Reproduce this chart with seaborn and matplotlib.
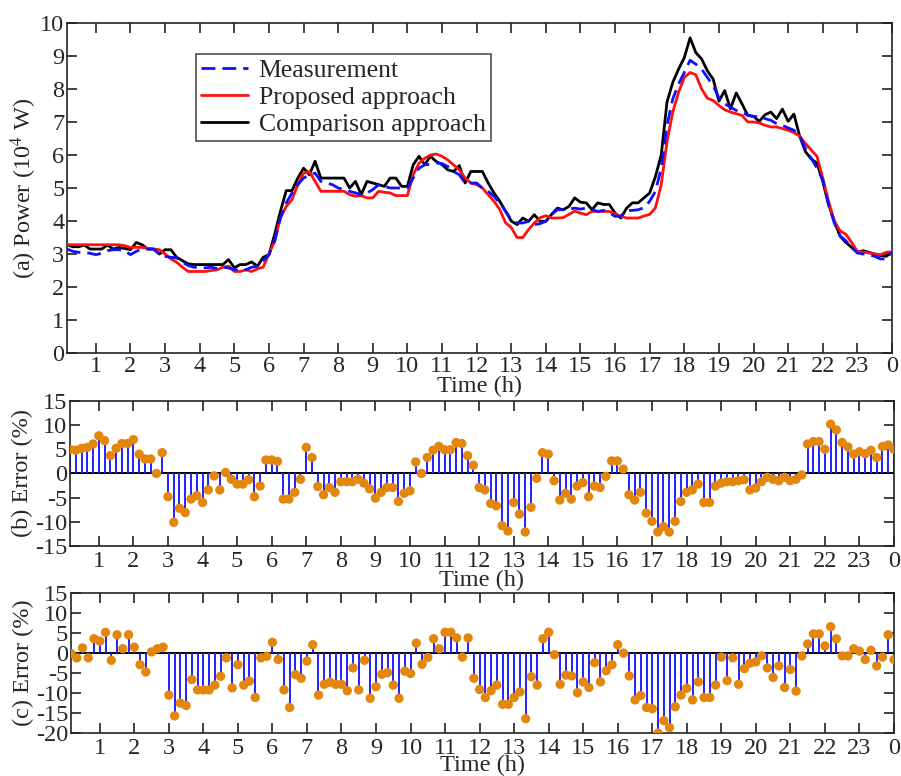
import numpy as np
import pandas as pd
import matplotlib
matplotlib.use("Agg")
import matplotlib.pyplot as plt
import seaborn as sns

# ---------------- data ----------------
time_h = np.arange(1, 145) / 6.0  # 10-minute steps, 0:10 ... 24:00

measurement = [
    3.15, 3.08, 3.05, 3.05, 3.02, 2.98, 3.02, 3.10, 3.13, 3.13, 3.10, 2.98,
    3.08, 3.15, 3.15, 3.15, 3.00, 2.93, 2.90, 2.88, 2.75, 2.65, 2.60, 2.58,
    2.58, 2.60, 2.56, 2.60, 2.58, 2.52, 2.52, 2.52, 2.60, 2.63, 2.80, 2.98,
    3.40, 4.10, 4.55, 4.85, 5.10, 5.30, 5.40, 5.45, 5.20, 5.15, 5.10, 5.00,
    4.95, 4.90, 4.85, 4.80, 4.85, 4.95, 5.10, 5.05, 5.00, 5.00, 5.00, 5.00,
    5.30, 5.60, 5.70, 5.72, 5.76, 5.74, 5.65, 5.50, 5.40, 5.15, 5.15, 5.15,
    5.00, 4.90, 4.75, 4.55, 4.30, 4.04, 3.94, 3.94, 3.99, 3.89, 3.92, 3.99,
    4.20, 4.34, 4.34, 4.36, 4.39, 4.36, 4.39, 4.34, 4.29, 4.32, 4.25, 4.14,
    4.15, 4.32, 4.32, 4.34, 4.40, 4.60, 4.90, 5.60, 6.90, 7.70, 8.15, 8.50,
    8.87, 8.75, 8.60, 8.35, 8.10, 7.73, 7.55, 7.45, 7.35, 7.30, 7.20, 7.17,
    7.15, 7.10, 7.05, 6.95, 6.90, 6.82, 6.75, 6.57, 6.20, 5.90, 5.60, 5.25,
    4.50, 3.94, 3.55, 3.40, 3.20, 3.03, 3.00, 2.98, 2.93, 2.85, 2.85, 3.05,
]

proposed = [
    3.28, 3.28, 3.28, 3.28, 3.28, 3.28, 3.28, 3.28, 3.28, 3.28, 3.25, 3.20,
    3.20, 3.20, 3.17, 3.15, 3.13, 3.00, 2.85, 2.75, 2.60, 2.47, 2.47, 2.47,
    2.47, 2.50, 2.52, 2.60, 2.63, 2.47, 2.47, 2.52, 2.47, 2.55, 2.60, 3.00,
    3.40, 4.10, 4.44, 4.65, 5.10, 5.45, 5.50, 5.20, 4.90, 4.90, 4.90, 4.90,
    4.90, 4.80, 4.75, 4.77, 4.70, 4.70, 4.90, 4.87, 4.85, 4.77, 4.77, 4.77,
    5.40, 5.75, 5.90, 6.00, 6.03, 5.96, 5.85, 5.70, 5.55, 5.30, 5.15, 5.10,
    5.00, 4.80, 4.60, 4.35, 3.95, 3.80, 3.50, 3.50, 3.74, 3.94, 4.10, 4.16,
    4.09, 4.09, 4.10, 4.20, 4.30, 4.24, 4.19, 4.29, 4.29, 4.29, 4.29, 4.22,
    4.14, 4.09, 4.09, 4.09, 4.15, 4.20, 4.40, 5.10, 6.40, 7.30, 7.90, 8.35,
    8.50, 8.43, 8.00, 7.72, 7.65, 7.50, 7.37, 7.30, 7.25, 7.20, 7.00, 7.00,
    6.97, 6.90, 6.85, 6.85, 6.80, 6.75, 6.68, 6.57, 6.35, 6.15, 5.96, 5.30,
    4.60, 4.00, 3.70, 3.60, 3.35, 3.08, 3.06, 3.03, 3.00, 2.98, 3.05, 3.07,
]

comparison = [
    3.28, 3.22, 3.22, 3.27, 3.15, 3.15, 3.15, 3.27, 3.15, 3.20, 3.17, 3.13,
    3.35, 3.28, 3.15, 3.15, 3.00, 3.13, 3.13, 2.90, 2.80, 2.70, 2.68, 2.68,
    2.68, 2.68, 2.68, 2.68, 2.83, 2.58, 2.68, 2.68, 2.76, 2.63, 2.90, 2.98,
    3.60, 4.30, 4.92, 4.92, 5.30, 5.60, 5.40, 5.81, 5.30, 5.30, 5.30, 5.30,
    5.30, 5.00, 5.20, 4.80, 5.20, 5.15, 5.10, 5.05, 5.30, 5.30, 5.05, 5.05,
    5.70, 5.96, 5.71, 5.96, 5.80, 5.71, 5.55, 5.50, 5.68, 5.15, 5.50, 5.50,
    5.50, 5.15, 4.85, 4.60, 4.30, 4.00, 3.89, 4.09, 3.99, 4.19, 3.99, 3.99,
    4.20, 4.39, 4.34, 4.44, 4.70, 4.57, 4.55, 4.34, 4.55, 4.50, 4.50, 4.24,
    4.09, 4.39, 4.55, 4.55, 4.70, 4.85, 5.35, 6.00, 7.60, 8.20, 8.60, 8.95,
    9.55, 9.10, 8.91, 8.55, 8.30, 7.63, 7.95, 7.40, 7.88, 7.55, 7.20, 7.17,
    7.02, 7.22, 7.30, 7.10, 7.39, 7.02, 7.24, 6.57, 6.10, 5.88, 5.75, 5.20,
    4.50, 4.00, 3.54, 3.35, 3.20, 3.05, 3.10, 3.05, 3.00, 2.95, 2.93, 3.05,
]

error_b = [
    5.0, 4.8, 5.2, 5.4, 6.1, 7.8, 6.8, 3.7, 5.2, 6.2, 6.2, 7.0,
    4.0, 3.0, 3.0, 0.0, 4.3, -4.8, -10.1, -7.2, -8.1, -5.3, -4.6, -6.0,
    -3.4, -0.5, -3.4, 0.2, -1.2, -2.2, -2.2, -1.3, -4.8, -2.6, 2.8, 2.8,
    2.5, -5.3, -5.3, -3.9, -1.2, 5.4, 3.3, -2.7, -4.4, -2.9, -3.9, -1.7,
    -1.7, -1.7, -1.2, -2.0, -3.2, -5.1, -3.9, -2.9, -2.9, -5.8, -4.1, -3.6,
    2.4, 0.0, 3.3, 4.8, 5.6, 4.9, 4.9, 6.4, 6.2, 3.7, 1.7, -2.9,
    -3.4, -6.2, -6.7, -10.8, -11.9, -6.0, -8.4, -12.1, -7.0, -1.0, 4.3, 4.0,
    -1.5, -5.5, -4.1, -5.3, -2.6, -1.9, -4.8, -2.6, -2.9, -0.6, 2.6, 2.6,
    0.9, -4.4, -5.5, -3.9, -8.2, -9.9, -12.1, -11.0, -12.1, -9.9, -5.8, -3.9,
    -3.4, -2.2, -6.0, -6.0, -2.6, -2.0, -1.7, -1.7, -1.5, -1.3, -3.4, -3.0,
    -1.7, -0.8, -1.2, -1.5, -0.8, -1.5, -1.2, -0.3, 6.1, 6.6, 6.6, 5.0,
    10.2, 9.0, 6.4, 5.5, 4.0, 4.5, 4.1, 4.8, 3.3, 5.6, 5.9, 5.0,
]

error_c = [
    -0.2, -1.3, 1.2, -1.3, 3.5, 2.9, 5.1, -1.9, 4.5, 1.0, 4.5, 1.4,
    -3.0, -4.8, 0.2, 1.0, 1.4, -10.6, -15.8, -12.6, -13.2, -6.7, -9.3, -9.3,
    -9.3, -8.1, -5.9, -1.3, -8.8, -3.0, -8.1, -7.1, -11.2, -1.3, -0.9, 2.6,
    -1.7, -9.3, -13.7, -5.5, -6.4, -2.1, 2.0, -10.6, -7.9, -7.4, -7.9, -7.9,
    -9.5, -3.8, -9.3, -1.9, -11.4, -8.5, -5.4, -5.0, -8.1, -11.4, -4.6, -5.2,
    2.4, -2.9, -1.2, 3.5, 1.0, 5.1, 5.1, 3.7, -1.1, 3.7, -6.4, -9.2,
    -11.2, -9.5, -8.1, -12.9, -12.9, -11.2, -9.8, -16.5, -6.0, -8.1, 3.5, 5.1,
    -0.5, -7.9, -5.6, -5.8, -10.0, -7.3, -8.7, -2.5, -7.3, -4.5, -3.0, 2.0,
    -0.1, -5.8, -11.8, -10.7, -13.7, -14.0, -20.1, -17.0, -18.7, -13.5, -10.6, -8.9,
    -11.8, -7.3, -11.2, -11.2, -8.1, -1.1, -7.0, -1.3, -7.9, -4.0, -2.6, -2.3,
    -0.8, -3.8, -6.2, -3.3, -8.7, -4.2, -9.6, -0.8, 2.2, 4.7, 4.7, 1.7,
    6.5, 3.5, -0.8, -0.8, 1.0, 0.4, -1.7, 0.6, -3.3, -1.1, 4.5, -1.7,
]

hour_ticks = list(range(1, 25))
hour_labels = [str(h % 24) for h in hour_ticks]
power_ticks = list(range(0, 11))
err_b_ticks = [-15, -10, -5, 0, 5, 10, 15]
err_c_ticks = [-20, -15, -10, -5, 0, 5, 10, 15]

# ---------------- style ----------------
sns.set_style("ticks")
plt.rcParams["font.family"] = ["Liberation Serif", "DejaVu Serif"]
plt.rcParams["mathtext.fontset"] = "stix"
plt.rcParams["axes.unicode_minus"] = False
plt.rcParams["xtick.direction"] = "in"
plt.rcParams["ytick.direction"] = "in"
plt.rcParams["xtick.top"] = True
plt.rcParams["ytick.right"] = True
plt.rcParams["axes.edgecolor"] = "#222222"
plt.rcParams["axes.linewidth"] = 1.2

TICK_FS = 17.5
LAB_FS = 17.5

fig = plt.figure(figsize=(9.01, 7.76), dpi=100)
ax1 = fig.add_axes([0.0744, 0.5451, 0.9156, 0.4253])
ax2 = fig.add_axes([0.0777, 0.2964, 0.9145, 0.1869])
ax3 = fig.add_axes([0.0788, 0.0558, 0.9134, 0.1804])

df = pd.DataFrame({"t": time_h, "meas": measurement, "prop": proposed,
                   "comp": comparison, "eb": error_b, "ec": error_c})

# ---- panel (a)
sns.lineplot(data=df, x="t", y="comp", ax=ax1, color="black", lw=2.0,
             label="Comparison approach", zorder=2)
sns.lineplot(data=df, x="t", y="prop", ax=ax1, color="#ff1010", lw=2.0,
             label="Proposed approach", zorder=3)
sns.lineplot(data=df, x="t", y="meas", ax=ax1, color="#1010ff", lw=2.0,
             dashes=False, linestyle=(0, (5, 2.5)), label="Measurement", zorder=4)
ax1.set_xlim(1 / 6, 24)
ax1.set_ylim(0, 10)
ax1.set_yticks(power_ticks)
ax1.set_ylabel("(a) Power (10$^4$ W)", fontsize=LAB_FS, labelpad=1)
ax1.set_xlabel("Time (h)", fontsize=LAB_FS, labelpad=-1)
handles, labels = ax1.get_legend_handles_labels()
order = [labels.index("Measurement"), labels.index("Proposed approach"),
         labels.index("Comparison approach")]
leg = ax1.legend([handles[i] for i in order], [labels[i] for i in order],
                 loc="upper left", bbox_to_anchor=(0.156, 0.905), fontsize=18.5,
                 frameon=True, fancybox=False, edgecolor="#222222",
                 handlelength=1.85, handletextpad=0.4, borderpad=0.2,
                 labelspacing=0.15, borderaxespad=0)
leg.get_frame().set_linewidth(1.2)


def stem_panel(ax, col, yticks, ylim, ylabel, xpad, lpad):
    ax.axhline(0, color="black", lw=1.4, zorder=1)
    ax.vlines(df["t"], 0, df[col], color="#2020ff", lw=1.4, zorder=2)
    sns.scatterplot(data=df, x="t", y=col, ax=ax, color="#e3860c",
                    s=45, edgecolor="none", zorder=3, legend=False)
    ax.set_xlim(1 / 6, 24)
    ax.set_ylim(*ylim)
    ax.set_yticks(yticks)
    ax.set_ylabel(ylabel, fontsize=LAB_FS, labelpad=1)
    ax.set_xlabel("Time (h)", fontsize=LAB_FS, labelpad=lpad)
    ax.tick_params(axis="x", pad=xpad)


for ax in (ax1, ax2, ax3):
    ax.set_xticks(hour_ticks)
    ax.set_xticklabels(hour_labels)
    ax.tick_params(axis="both", which="major", labelsize=TICK_FS, length=7,
                   width=1.2, color="#222222", pad=2)
    for s in ax.spines.values():
        s.set_visible(True)

stem_panel(ax2, "eb", err_b_ticks, (-15, 15), "(b) Error (%)", 3.5, -1.5)
stem_panel(ax3, "ec", err_c_ticks, (-20, 15), "(c) Error (%)", 4.0, -3.5)

fig.savefig("out.png", dpi=100)
